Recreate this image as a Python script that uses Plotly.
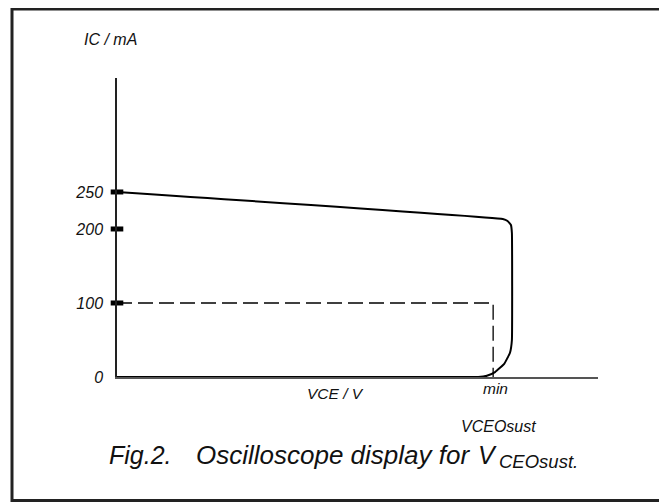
import plotly.graph_objects as go

# --- data (VCE in arbitrary units 0..100, IC in mA) ---
curve_vce = [0, 80.2, 81.2, 81.9, 82.1, 82.1, 81.7, 80.5, 78.6, 76.9, 75.1, 0]
curve_ic = [250, 213.5, 210.8, 205.4, 194.6, 50, 32.8, 17.8, 6.7, 1.7, 0, 0]
dash_vce = [0, 78.2, 78.2]
dash_ic = [100, 100, 0]
tick_vals = [0, 100, 200, 250]
tick_text = ["0", "100", "200", "250"]
mark_ic = [100, 200, 250]
mark_vce = [0, 0, 0]

OFF = 8  # page body margin
W, H = 667 - OFF, 502 - OFF
L, T = 117 - OFF, 78 - OFF
R = W - (598 - OFF)
B = H - (377 - OFF)
pw, ph = W - L - R, H - T - B

def px(x):  # screen x -> paper
    return (x - OFF - L) / pw

def py(y):  # screen y -> paper
    return (H - B - (y - OFF)) / ph

FONT = "Liberation Sans, Arial, sans-serif"

fig = go.Figure()
fig.add_trace(go.Scatter(x=dash_vce, y=dash_ic, mode="lines",
                         line=dict(color="black", width=1.3, dash="15px,6px"),
                         hoverinfo="skip", showlegend=False, cliponaxis=False))
fig.add_trace(go.Scatter(x=curve_vce, y=curve_ic, mode="lines",
                         line=dict(color="black", width=2, shape="spline", smoothing=0.3),
                         hoverinfo="skip", showlegend=False, cliponaxis=False))
fig.add_trace(go.Scatter(x=mark_vce, y=mark_ic, mode="markers",
                         marker=dict(symbol="line-ew", size=9, color="black",
                                     line=dict(color="black", width=5)),
                         hoverinfo="skip", showlegend=False, cliponaxis=False))

fig.update_xaxes(range=[0, 100], showgrid=False, zeroline=False, showticklabels=False,
                 showline=True, linecolor="#555", linewidth=1.5, ticks="", fixedrange=True)
fig.update_yaxes(range=[0, 404], showgrid=False, zeroline=False,
                 tickvals=tick_vals, ticktext=tick_text, ticks="", ticklabelstandoff=9,
                 tickfont=dict(family=FONT, size=16, color="#111", style="italic"),
                 showline=True, linecolor="#222", linewidth=1.5, fixedrange=True)

annots = [
    ("IC / mA", 110.5, 39, 16, "center"),
    ("VCE / V", 335.5, 393, 15.5, "center"),
    ("min", 495.5, 388, 15.5, "center"),
    ("VCEOsust", 498.5, 427, 16, "center"),
    ("Fig.2.", 107, 455, 25, "left"),
    ("Oscilloscope display for", 194, 455, 26, "left"),
    ("V", 476, 455, 25, "left"),
    ("CEOsust.", 497, 461, 18.5, "left"),
]
for text, x, y, size, anchor in annots:
    fig.add_annotation(text=text, xref="paper", yref="paper", x=px(x), y=py(y),
                       xanchor=anchor, yanchor="middle", showarrow=False,
                       font=dict(family=FONT, size=size, color="#111", style="italic"))

fig.add_shape(type="rect", xref="paper", yref="paper",
              x0=px(12), x1=px(663), y0=py(500.5), y1=py(9),
              line=dict(color="#222", width=3), fillcolor="rgba(0,0,0,0)", layer="below")

fig.update_layout(width=W, height=H, margin=dict(l=L, r=R, t=T, b=B),
                  paper_bgcolor="white", plot_bgcolor="white", showlegend=False)

fig.write_html("out.html", config={"displayModeBar": False})
